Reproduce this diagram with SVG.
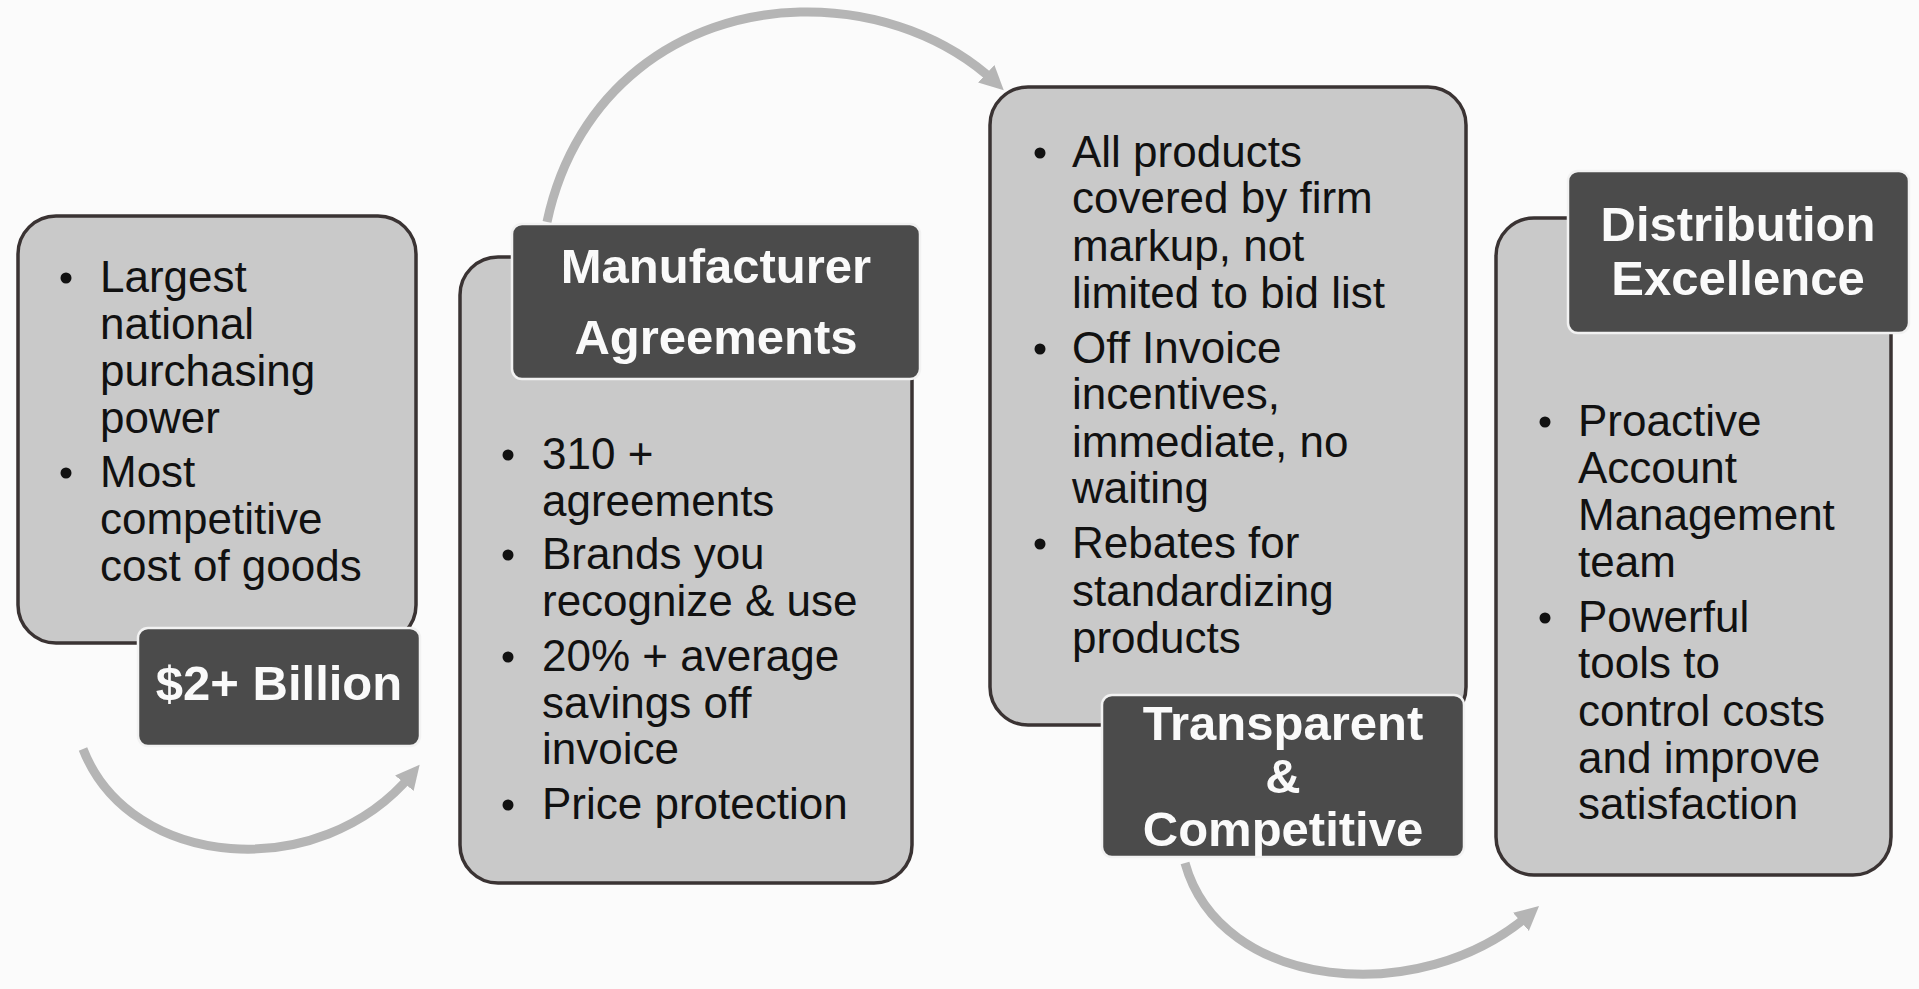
<svg xmlns="http://www.w3.org/2000/svg" width="1919" height="989" viewBox="0 0 1919 989">
<style>
.box{fill:#c9c9c9;stroke:#3a3333;stroke-width:3.5}
.lbl{fill:#4b4b4b;stroke:#f2f2f2;stroke-width:2.5}
.body{font-family:"Liberation Sans",Arial,sans-serif;font-size:44px;fill:#111}
.head{font-family:"Liberation Sans",Arial,sans-serif;font-size:49px;font-weight:bold;fill:#fafafa;text-anchor:middle}
.dot{fill:#111}
.arr{fill:none;stroke:#b5b5b5;stroke-width:9;marker-end:url(#ah)}
</style>
<defs>
<marker id="ah" markerUnits="userSpaceOnUse" markerWidth="26" markerHeight="26" refX="12" refY="12" orient="auto">
<path d="M0,0 L24,12 L0,24 z" fill="#b5b5b5"/>
</marker>
</defs>
<rect width="1919" height="989" fill="#fbfbfb"/>
<g id="connectors">
<path class="arr" d="M83,749 C130,870 320,885 412,774"/>
<path class="arr" d="M547,222 C575,90 680,15 800,12 C880,10 950,40 995,82"/>
<path class="arr" d="M1185,863 C1220,990 1420,1010 1530,914"/>
</g>
<g id="node1">
<rect class="box" x="18" y="216" width="398" height="427" rx="38"/>
<g class="dot"><circle cx="66" cy="278" r="5.5"/><circle cx="66" cy="473" r="5.5"/></g>
<text class="body"><tspan x="100" y="292">Largest</tspan><tspan x="100" y="339">national</tspan><tspan x="100" y="386">purchasing</tspan><tspan x="100" y="433">power</tspan><tspan x="100" y="487">Most</tspan><tspan x="100" y="534">competitive</tspan><tspan x="100" y="581">cost of goods</tspan></text>
<rect class="lbl" x="138" y="628" width="282" height="118" rx="10"/>
<text class="head" x="279" y="700">$2+ Billion</text>
</g>
<g id="node2">
<rect class="box" x="460" y="257" width="452" height="626" rx="38"/>
<g class="dot"><circle cx="508" cy="455" r="5.5"/><circle cx="508" cy="555" r="5.5"/><circle cx="508" cy="657" r="5.5"/><circle cx="508" cy="805" r="5.5"/></g>
<text class="body"><tspan x="542" y="469">310 +</tspan><tspan x="542" y="516">agreements</tspan><tspan x="542" y="569">Brands you</tspan><tspan x="542" y="616">recognize &amp; use</tspan><tspan x="542" y="671">20% + average</tspan><tspan x="542" y="718">savings off</tspan><tspan x="542" y="764">invoice</tspan><tspan x="542" y="819">Price protection</tspan></text>
<rect class="lbl" x="512" y="224" width="408" height="155" rx="10"/>
<text class="head"><tspan x="716" y="283">Manufacturer</tspan><tspan x="716" y="354">Agreements</tspan></text>
</g>
<g id="node3">
<rect class="box" x="990" y="87" width="476" height="638" rx="38"/>
<g class="dot"><circle cx="1040" cy="153" r="5.5"/><circle cx="1040" cy="349" r="5.5"/><circle cx="1040" cy="544" r="5.5"/></g>
<text class="body"><tspan x="1072" y="167">All products</tspan><tspan x="1072" y="213">covered by firm</tspan><tspan x="1072" y="261">markup, not</tspan><tspan x="1072" y="308">limited to bid list</tspan><tspan x="1072" y="363">Off Invoice</tspan><tspan x="1072" y="409">incentives,</tspan><tspan x="1072" y="457">immediate, no</tspan><tspan x="1072" y="503">waiting</tspan><tspan x="1072" y="558">Rebates for</tspan><tspan x="1072" y="606">standardizing</tspan><tspan x="1072" y="653">products</tspan></text>
<rect class="lbl" x="1102" y="695" width="362" height="162" rx="10"/>
<text class="head"><tspan x="1283" y="740">Transparent</tspan><tspan x="1283" y="793">&amp;</tspan><tspan x="1283" y="846">Competitive</tspan></text>
</g>
<g id="node4">
<rect class="box" x="1496" y="218" width="395" height="657" rx="38"/>
<g class="dot"><circle cx="1545" cy="422" r="5.5"/><circle cx="1545" cy="618" r="5.5"/></g>
<text class="body"><tspan x="1578" y="436">Proactive</tspan><tspan x="1578" y="483">Account</tspan><tspan x="1578" y="530">Management</tspan><tspan x="1578" y="577">team</tspan><tspan x="1578" y="632">Powerful</tspan><tspan x="1578" y="678">tools to</tspan><tspan x="1578" y="726">control costs</tspan><tspan x="1578" y="773">and improve</tspan><tspan x="1578" y="819">satisfaction</tspan></text>
<rect class="lbl" x="1568" y="171" width="341" height="162" rx="10"/>
<text class="head"><tspan x="1738" y="241">Distribution</tspan><tspan x="1738" y="295">Excellence</tspan></text>
</g>
</svg>
